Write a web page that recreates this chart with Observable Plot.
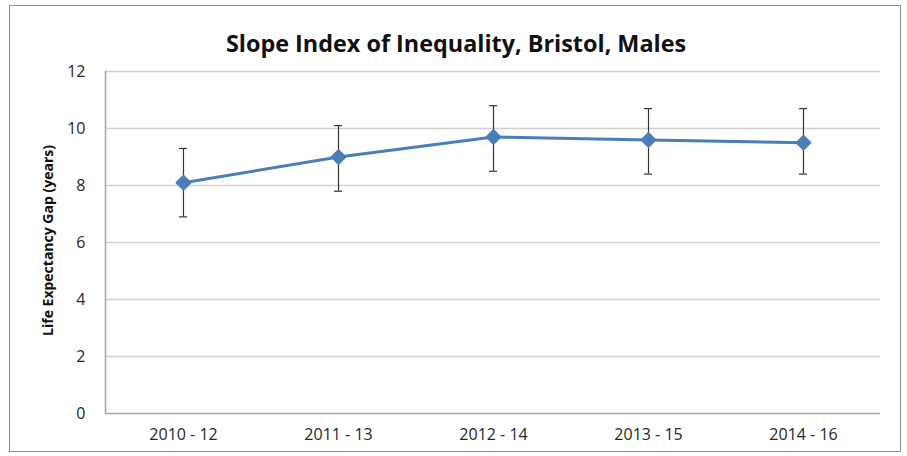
<!DOCTYPE html>
<html>
<head>
<meta charset="utf-8">
<script src="https://cdn.jsdelivr.net/npm/d3@7"></script>
<script src="https://cdn.jsdelivr.net/npm/@observablehq/plot@0.6"></script>
<style>
  html, body { margin: 0; padding: 0; background: #fff; }
  #wrap { position: relative; width: 907px; height: 456px; overflow: hidden; }
  #frame { position: absolute; left: 9px; top: 5px; width: 892px; height: 447px; border: 1px solid #8c8c8c; box-sizing: border-box; pointer-events: none; }
  #chart { position: absolute; left: 0; top: 0; }
</style>
</head>
<body>
<div id="wrap">
  <div id="chart"></div>
  <div id="frame"></div>
</div>
<script>
const periods = ["2010 - 12", "2011 - 13", "2012 - 14", "2013 - 15", "2014 - 16"];
const sii = [8.1, 9.0, 9.7, 9.6, 9.5];
const lower = [6.9, 7.8, 8.5, 8.4, 8.4];
const upper = [9.3, 10.1, 10.8, 10.7, 10.7];
const yTicks = [0, 2, 4, 6, 8, 10, 12];
const title = "Slope Index of Inequality, Bristol, Males";
const yLabel = "Life Expectancy Gap (years)";

const data = periods.map((p, i) => ({period: p, value: sii[i], lo: lower[i], hi: upper[i]}));

const font = "'Open Sans', Lato, sans-serif";
const blue = "#4a7ebb";

const chart = Plot.plot({
  width: 907,
  height: 456,
  marginLeft: 105,
  marginRight: 27,
  marginTop: 71,
  marginBottom: 43,
  style: {fontFamily: font, fontSize: "16px", color: "#262626", background: "transparent"},
  x: {type: "point", domain: periods, padding: 0.5, label: null},
  y: {domain: [0, 12], label: null},
  marks: [
    Plot.gridY(yTicks.filter(d => d > 0), {stroke: "#d0d0d0", strokeOpacity: 1, strokeWidth: 1.5}),
    Plot.ruleY([0], {stroke: "#a6a6a6", strokeWidth: 1.5}),
    Plot.frame({anchor: "left", stroke: "#a6a6a6", strokeWidth: 1.5}),
    Plot.axisY({ticks: yTicks, tickSize: 0, tickPadding: 20, fontSize: 16, label: null}),
    Plot.axisX({tickSize: 0, tickPadding: 15, fontSize: 16, letterSpacing: 0.4, label: null}),
    Plot.ruleX(data, {x: "period", y1: "lo", y2: "hi", stroke: "#333", strokeWidth: 1.2}),
    Plot.ruleY(data, {x1: "period", x2: "period", y: "lo", stroke: "#333", strokeWidth: 1.2, insetLeft: -4, insetRight: -4}),
    Plot.ruleY(data, {x1: "period", x2: "period", y: "hi", stroke: "#333", strokeWidth: 1.2, insetLeft: -4, insetRight: -4}),
    Plot.line(data, {x: "period", y: "value", stroke: blue, strokeWidth: 3}),
    Plot.dot(data, {x: "period", y: "value", symbol: "diamond2", r: 6.5, fill: blue, stroke: blue}),
    Plot.text([title], {text: d => d, frameAnchor: "top", dx: -37, dy: -36, fontSize: 23.4, fontWeight: "bold", fill: "#111"}),
    Plot.text([yLabel], {text: d => d, frameAnchor: "left", textAnchor: "middle", dx: -57, dy: -2, rotate: -90, fontSize: 14, fontWeight: "bold", fill: "#111"})
  ]
});
document.getElementById("chart").appendChild(chart);
</script>
</body>
</html>
